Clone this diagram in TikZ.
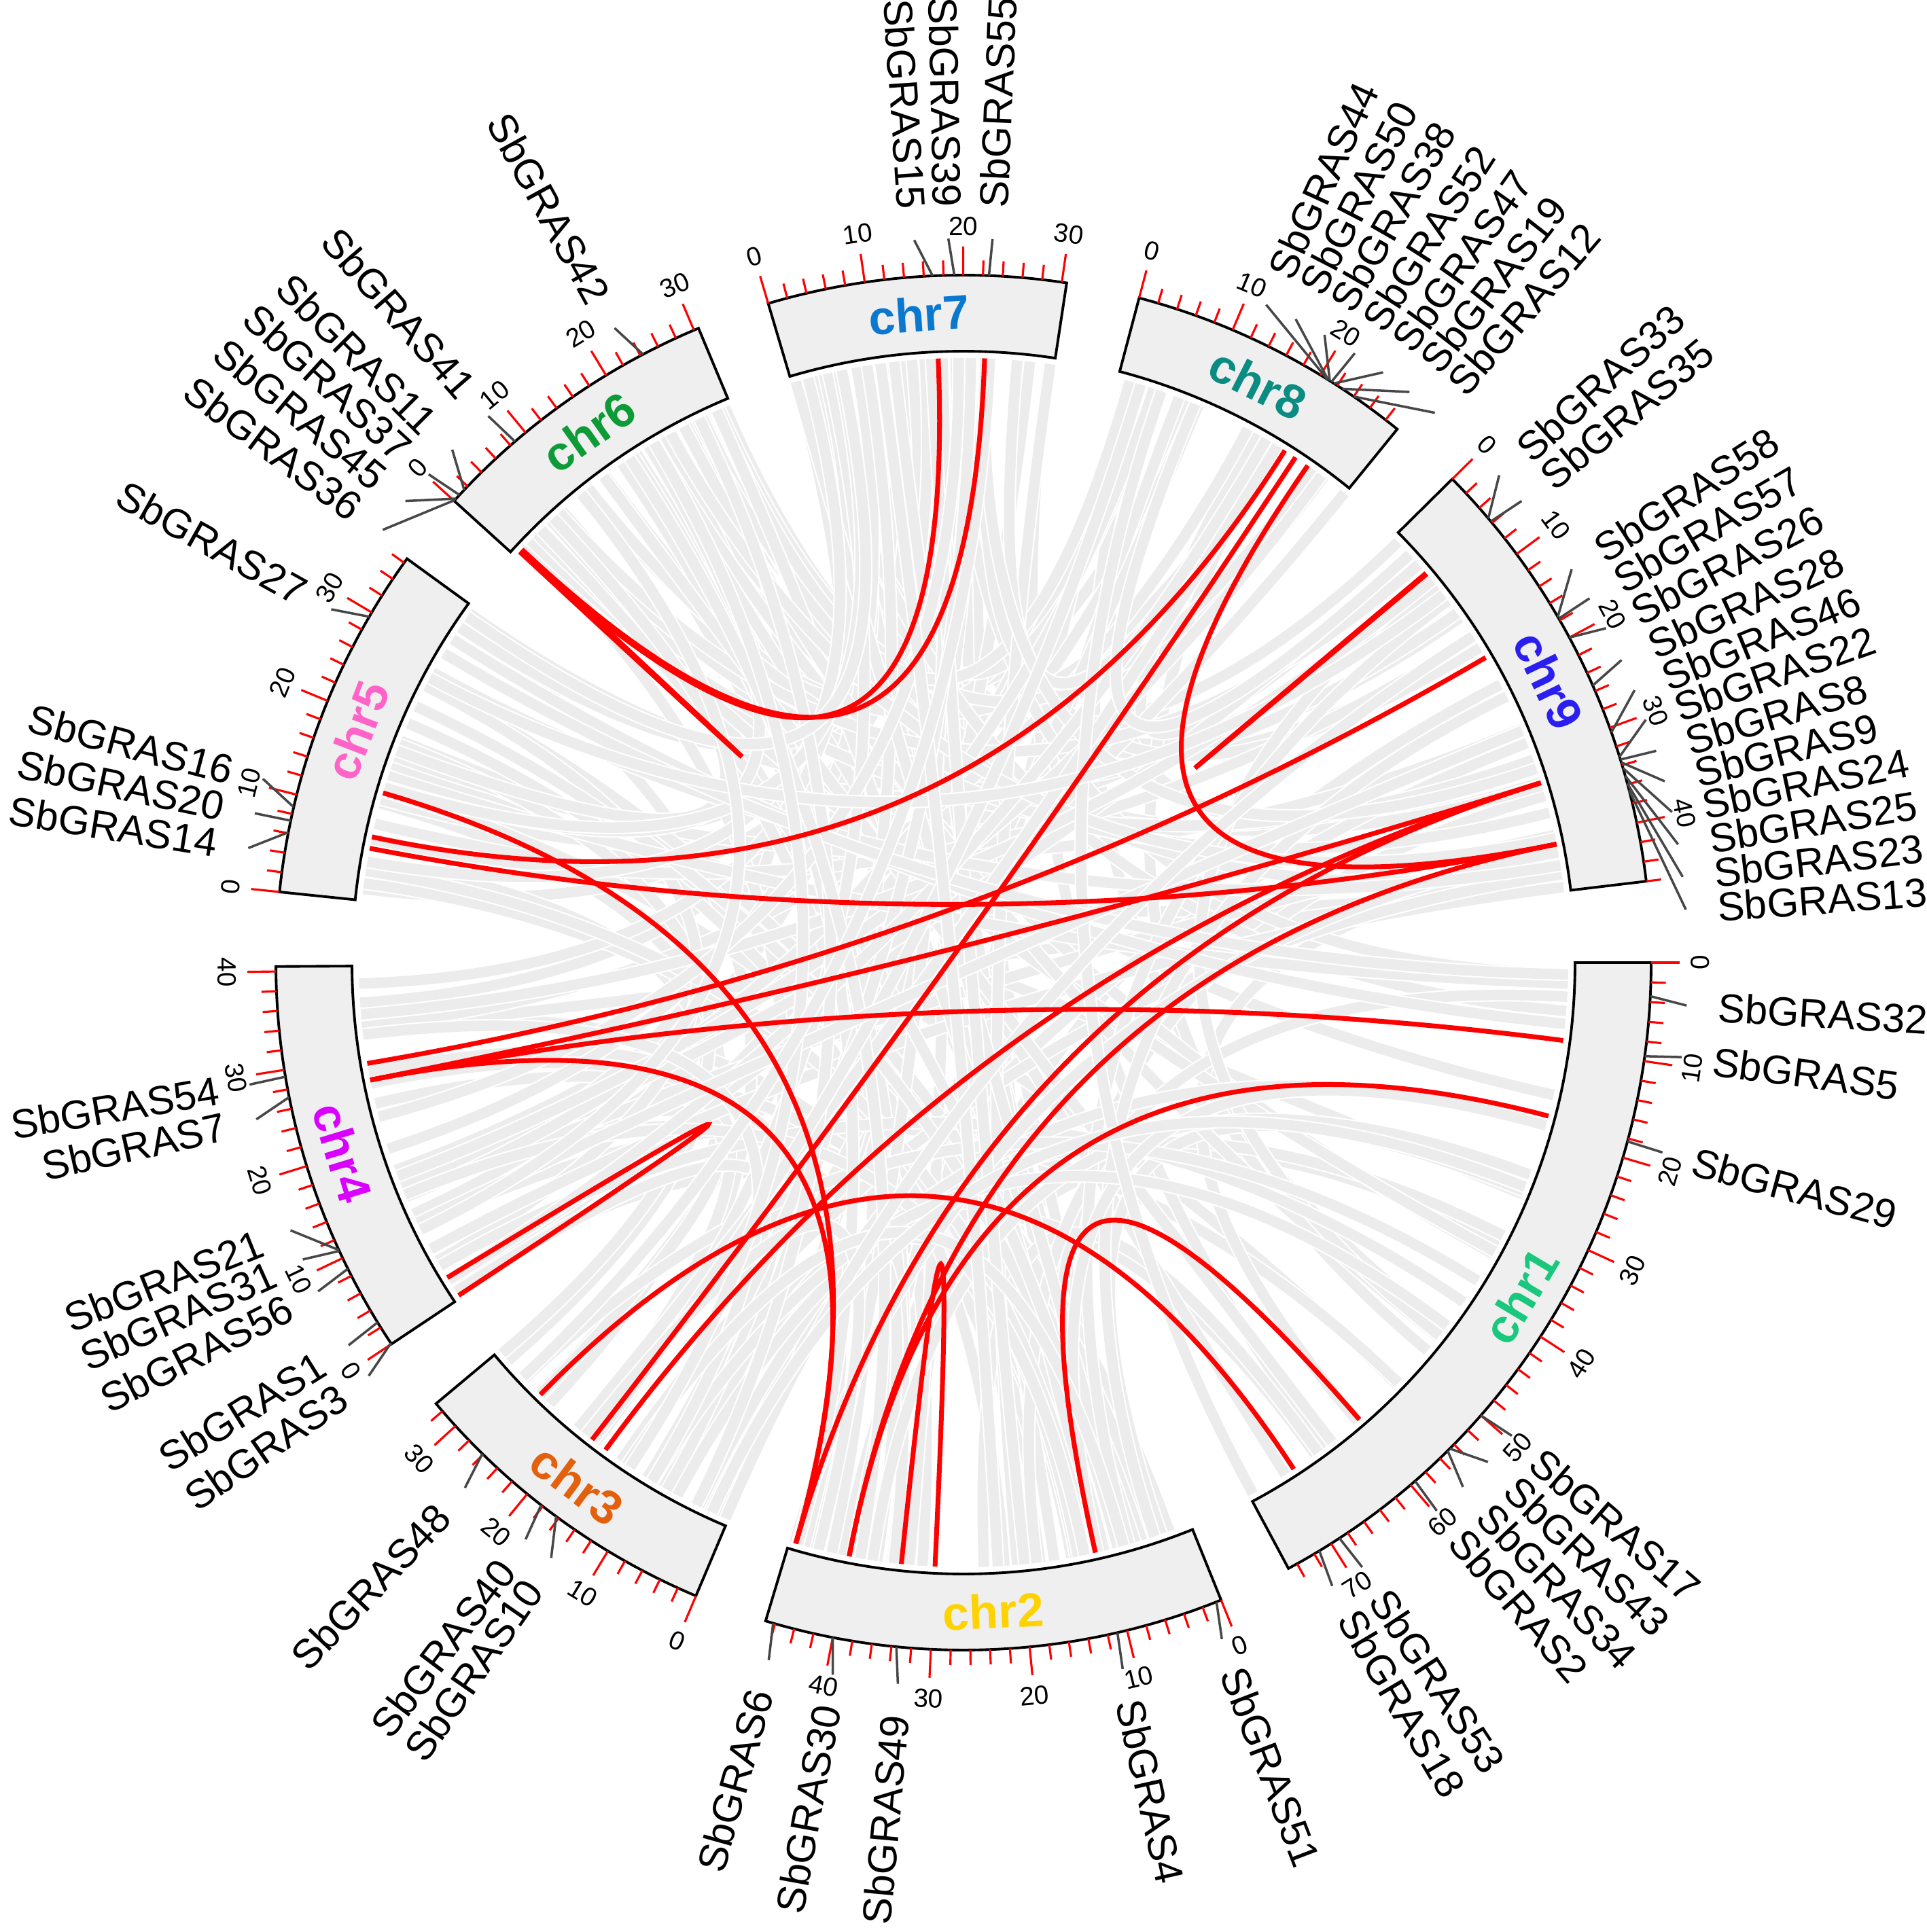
\documentclass[tikz,border=0pt]{standalone}
\usepackage{fontspec}
\setmainfont{Liberation Sans}

\definecolor{boxgray}{HTML}{EFEFEF}
\definecolor{linkgray}{HTML}{ECECEC}
\definecolor{cone}{HTML}{19C87D}
\definecolor{ctwo}{HTML}{FFD200}
\definecolor{cthree}{HTML}{E4600C}
\definecolor{cfour}{HTML}{D900FF}
\definecolor{cfive}{HTML}{FF63C8}
\definecolor{csix}{HTML}{0D9B37}
\definecolor{cseven}{HTML}{0B78D0}
\definecolor{ceight}{HTML}{0A8C82}
\definecolor{cnine}{HTML}{2A1FF0}

\def\Rin{9.0}
\def\Rout{10.12}
\def\Rl{8.9}
\def\degmb{0.824}
\def\chrstart{{0,-68,-112.9,-146.3,174.1,137.8,106.5,75.2,44.7}}
\def\chrlen{{75,47,33,40.5,36.5,30.5,30.5,29.5,46}}

\begin{document}
\begin{tikzpicture}[
  chrbox/.style={draw=black, line width=1.1pt, fill=boxgray},
  redlink/.style={draw=red, line width=2pt},
  graylink/.style={draw=white, line width=0.6pt, double=linkgray, double distance=4.4pt},
  tickmark/.style={draw=red, line width=0.9pt},
  genemark/.style={draw=black!72, line width=1pt},
  ticklab/.style={inner sep=0pt, font=\fontsize{11}{11}\selectfont},
  genelab/.style={inner sep=0pt, font=\fontsize{17}{18}\selectfont},
  chrlab/.style={inner sep=0pt, font=\fontsize{20}{20}\selectfont\bfseries}
]
\useasboundingbox (-14.18,-14.27) rectangle (14.17,14.17);

% background links
\pgfmathsetseed{31}
\foreach \k in {1,...,170}{
  \pgfmathrandominteger{\ci}{0}{8}
  \pgfmathrandominteger{\cj}{0}{8}
  \pgfmathtruncatemacro\cj{\ci==\cj ? mod(\ci+4,9) : \cj}
  \pgfmathsetmacro\ua{\chrstart[\ci]-\degmb*rnd*\chrlen[\ci]}
  \pgfmathsetmacro\ub{\chrstart[\cj]-\degmb*rnd*\chrlen[\cj]}
  \draw[graylink] ({\ua}:\Rl) .. controls ({\ua}:{\Rl/3}) and ({\ub}:{\Rl/3}) .. ({\ub}:\Rl);
}

% segmental duplications
\foreach \a/\b in {92.4/137.1, 88.0/136.9, 137.2/137.0, 168.0/57.9, 56.7/-127.9,
    55.3/11.3, 40.1/40.0, 30.3/-170.4, 17.3/-168.8, 11.3/169.1, 163.7/-106.1,
    -7.4/-168.8, -14.7/-100.9, -49.1/-77.4, -56.9/-134.4, -95.9/-92.7,
    -148.6/-146.6, 17.3/-126.3, 17.3/-106.1, 11.3/-100.9, -168.8/-106.1}
  \draw[redlink] ({\a}:\Rl) .. controls ({\a}:{\Rl/3}) and ({\b}:{\Rl/3}) .. ({\b}:\Rl);

\foreach \nm/\sa/\clen/\ccol in {chr1/0/75/cone, chr2/-68/47/ctwo, chr3/-112.9/33/cthree,
    chr4/-146.3/40.5/cfour, chr5/174.1/36.5/cfive, chr6/137.8/30.5/csix,
    chr7/106.5/30.5/cseven, chr8/75.2/29.5/ceight, chr9/44.7/46/cnine}{
  \pgfmathsetmacro\ea{\sa-\degmb*\clen}
  \draw[chrbox] ({\sa}:\Rin) arc[start angle=\sa, end angle=\ea, radius=\Rin]
    -- ({\ea}:\Rout) arc[start angle=\ea, end angle=\sa, radius=\Rout] -- cycle;
  \pgfmathsetmacro\ma{\sa-\degmb*\clen/2}
  \pgfmathsetmacro\mr{\ma>0 ? \ma-90 : \ma+90}
  \node[chrlab, text=\ccol, rotate=\mr] (\nm) at ({\ma}:{(\Rin+\Rout)/2}) {\nm};
  \pgfmathtruncatemacro\tmax{\clen}
  \foreach \p in {0,2,...,\tmax}{
    \pgfmathsetmacro\ta{\sa-\degmb*\p}
    \pgfmathtruncatemacro\mj{mod(\p,10)==0}
    \ifnum\mj=1
      \draw[tickmark] ({\ta}:\Rout) -- ({\ta}:{\Rout+0.42});
      \pgfmathsetmacro\tr{\ta>0 ? \ta-90 : \ta+90}
      \node[ticklab, rotate=\tr] at ({\ta}:{\Rout+0.72}) {\p};
    \else
      \draw[tickmark] ({\ta}:\Rout) -- ({\ta}:{\Rout+0.22});
    \fi
  }
}

% gene labels: chromosome start / position / label angle / name
\foreach \s/\p/\la/\g in {
    0/3.4/-3.4/SbGRAS32, 0/9.5/-7.5/SbGRAS5, 0/18.3/-15.2/SbGRAS29,
    0/50.0/-40.8/SbGRAS17, 0/54.6/-43.6/SbGRAS43, 0/54.9/-46.4/SbGRAS34,
    0/59.4/-49.2/SbGRAS2, 0/69.0/-56.6/SbGRAS53, 0/71.4/-59.4/SbGRAS18,
    -68/0.5/-69.1/SbGRAS51, -68/11.0/-77.3/SbGRAS4, -68/33.5/-95.2/SbGRAS49,
    -68/40.0/-100.4/SbGRAS30, -68/46.2/-105.6/SbGRAS6,
    -112.9/16.3/-124.7/SbGRAS10, -112.9/18.2/-127.2/SbGRAS40, -112.9/26.1/-133.5/SbGRAS48,
    -146.3/0.1/-145.2/SbGRAS3, -146.3/2.6/-148.1/SbGRAS1, -146.3/8.8/-153.0/SbGRAS56,
    -146.3/10.8/-155.8/SbGRAS31, -146.3/10.9/-158.3/SbGRAS21,
    -146.3/27.2/-167.5/SbGRAS7, -146.3/29.3/-170.3/SbGRAS54,
    174.1/6.1/170.9/SbGRAS14, 174.1/7.3/168.1/SbGRAS20, 174.1/8.7/165.3/SbGRAS16,
    174.1/29.5/150.8/SbGRAS27,
    137.8/0.1/143.3/SbGRAS36, 137.8/0.3/140.4/SbGRAS45, 137.8/0.8/137.6/SbGRAS37,
    137.8/1.5/134.9/SbGRAS11, 137.8/8.6/131.0/SbGRAS41, 137.8/24.3/118.8/SbGRAS42,
    106.5/16.9/93.9/SbGRAS15, 106.5/19.1/91.2/SbGRAS39, 106.5/22.6/87.7/SbGRAS55,
    75.2/20.8/65.3/SbGRAS44, 75.2/20.9/62.7/SbGRAS50, 75.2/21.1/60.1/SbGRAS38,
    75.2/21.3/57.3/SbGRAS52, 75.2/21.6/54.6/SbGRAS47, 75.2/22.6/52.0/SbGRAS19,
    75.2/24.0/49.4/SbGRAS12,
    44.7/5.4/42.3/SbGRAS33, 44.7/5.8/39.6/SbGRAS35, 44.7/17.6/32.9/SbGRAS58,
    44.7/17.8/30.2/SbGRAS57, 44.7/20.0/27.5/SbGRAS26, 44.7/25.4/24.7/SbGRAS28,
    44.7/30.5/22.1/SbGRAS46, 44.7/33.1/19.6/SbGRAS22, 44.7/33.4/17.0/SbGRAS8,
    44.7/33.7/14.5/SbGRAS9, 44.7/34.3/12.0/SbGRAS24, 44.7/35.1/9.4/SbGRAS25,
    44.7/35.9/6.8/SbGRAS23, 44.7/36.6/4.2/SbGRAS13}{
  \pgfmathsetmacro\ga{\s-\degmb*\p}
  \draw[genemark] ({\ga}:\Rout) -- ({\la}:{\Rout+0.54});
  \pgfmathtruncatemacro\rt{cos(\la)>=0}
  \ifnum\rt=1
    \node[genelab, anchor=west, rotate=\la] (\g) at ({\la}:{\Rout+1.0}) {\g};
  \else
    \pgfmathsetmacro\lr{\la+180}
    \node[genelab, anchor=east, rotate=\lr] (\g) at ({\la}:{\Rout+1.0}) {\g};
  \fi
}
\end{tikzpicture}
\end{document}
